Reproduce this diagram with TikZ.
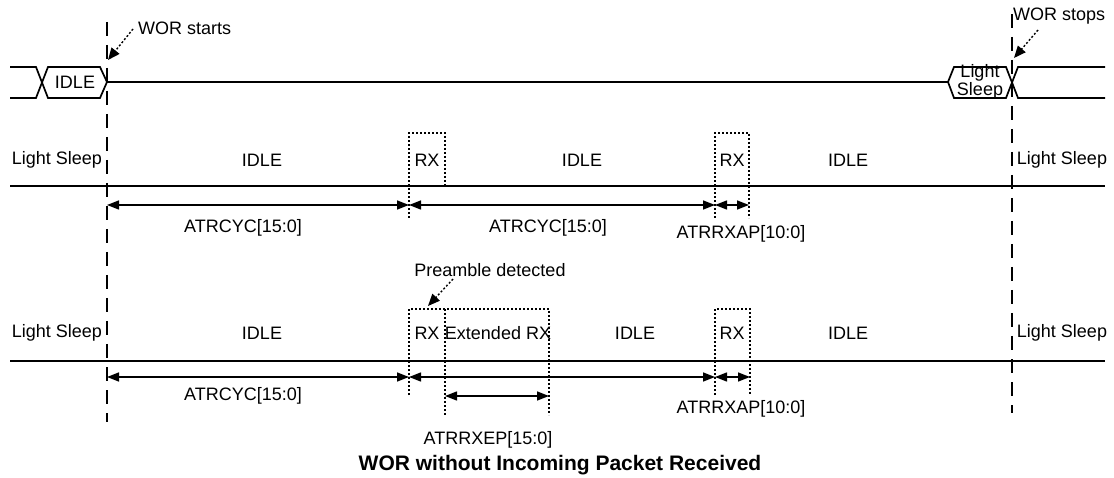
\documentclass[tikz,border=0pt]{standalone}
\usepackage{fontspec}
\setmainfont{Liberation Sans}
\usetikzlibrary{arrows.meta}
\begin{document}
\begin{tikzpicture}[x=1pt,y=-1pt,
  txt/.style={inner sep=0pt, font=\fontsize{18}{16}\selectfont},
  ttl/.style={inner sep=0pt, font=\bfseries\fontsize{21}{24}\selectfont},
  sig/.style={line width=1.7pt},
  guide/.style={line width=1.6pt, dash pattern=on 14pt off 9pt},
  dotl/.style={line width=1.4pt, dash pattern=on 2pt off 2pt},
  meas/.style={line width=1.4pt, {Triangle[length=12pt,width=9pt]}-{Triangle[length=12pt,width=9pt]}},
  callout/.style={line width=1.4pt, dash pattern=on 2pt off 2pt, -{Triangle[length=12pt,width=10pt]}},
]
\useasboundingbox (0,0) rectangle (1114,478);

% ---------- guide lines ----------
\coordinate (gsT) at (107,22);
\coordinate (gsB) at (107,422);
\coordinate (geT) at (1012,14);
\coordinate (geB) at (1012,413);
\draw[guide] (gsT) -- (gsB);
\draw[guide] (geT) -- (geB);

% ---------- row 1: bus ----------
\draw[sig] (10,67) -- (36,67) -- (48,98) -- (100,98) -- (107,82) -- (100,67) -- (48,67) -- (36,98) -- (10,98);
\draw[sig] (107,82) -- (948,82) -- (954,67) -- (1006,67) -- (1018,98) -- (1105,98);
\draw[sig] (948,82) -- (954,98) -- (1006,98) -- (1018,67) -- (1105,67);
\node[txt] (b1) at (75,82) {IDLE};
\node[txt, align=center] (b2) at (980,82) {Light\\Sleep};

\node[txt, anchor=west] (ws) at (138,28) {WOR starts};
\node[txt, anchor=west] (we) at (1013,16) {WOR stops};
\coordinate (wsT) at (133,29);
\coordinate (wsH) at (108,60);
\coordinate (weT) at (1038,30);
\coordinate (weH) at (1014,58);
\draw[callout] (wsT) -- (wsH);
\draw[callout] (weT) -- (weH);

% ---------- row 2 ----------
\draw[sig] (10,186) -- (1105,186);
\node[txt] (l2a) at (57,160) {Light Sleep};
\node[txt] (i2a) at (262,160) {IDLE};
\node[txt] (x2a) at (427,160) {RX};
\node[txt] (i2b) at (582,160) {IDLE};
\node[txt] (x2b) at (732,160) {RX};
\node[txt] (i2c) at (848,160) {IDLE};
\node[txt] (l2b) at (1062,160) {Light Sleep};

\draw[dotl] (409,218) -- (409,133) -- (445,133) -- (445,186);
\draw[dotl] (715,218) -- (715,133) -- (749,133) -- (749,218);

\coordinate (r2a) at (107,205);
\coordinate (r2b) at (409,205);
\coordinate (r2c) at (715,205);
\coordinate (r2d) at (749,205);
\draw[meas] (r2a) -- (r2b);
\draw[meas] (r2b) -- (r2c);
\draw[meas] (r2c) -- (r2d);
\node[txt] (c2a) at (243,228) {ATRCYC[15:0]};
\node[txt] (c2b) at (548,228) {ATRCYC[15:0]};
\node[txt] (p2a) at (741,234) {ATRRXAP[10:0]};

% ---------- row 3 ----------
\draw[sig] (10,361) -- (1105,361);
\node[txt] (l3a) at (57,333) {Light Sleep};
\node[txt] (i3a) at (262,333) {IDLE};
\node[txt] (x3a) at (427,333) {RX};
\node[txt] (e3a) at (498,333) {Extended RX};
\node[txt] (i3b) at (635,333) {IDLE};
\node[txt] (x3b) at (732,333) {RX};
\node[txt] (i3c) at (848,333) {IDLE};
\node[txt] (l3b) at (1062,333) {Light Sleep};

\draw[dotl] (409,395) -- (409,309) -- (549,309) -- (549,415);
\draw[dotl] (445,309) -- (445,415);
\draw[dotl] (715,395) -- (715,309) -- (750,309) -- (750,395);

\node[txt] (pd) at (490,270) {Preamble detected};
\coordinate (pdT) at (453,279);
\coordinate (pdH) at (428,306);
\draw[callout] (pdT) -- (pdH);

\coordinate (r3a) at (107,377);
\coordinate (r3b) at (409,377);
\coordinate (r3c) at (715,377);
\coordinate (r3d) at (750,377);
\coordinate (r3e) at (445,396);
\coordinate (r3f) at (549,396);
\draw[meas] (r3a) -- (r3b);
\draw[meas] (r3b) -- (r3c);
\draw[meas] (r3c) -- (r3d);
\draw[meas] (r3e) -- (r3f);
\node[txt] (c3a) at (243,396) {ATRCYC[15:0]};
\node[txt] (p3a) at (741,409) {ATRRXAP[10:0]};
\node[txt] (p3b) at (488,440) {ATRRXEP[15:0]};

\node[ttl] (title) at (560,465) {WOR without Incoming Packet Received};
\end{tikzpicture}
\end{document}
